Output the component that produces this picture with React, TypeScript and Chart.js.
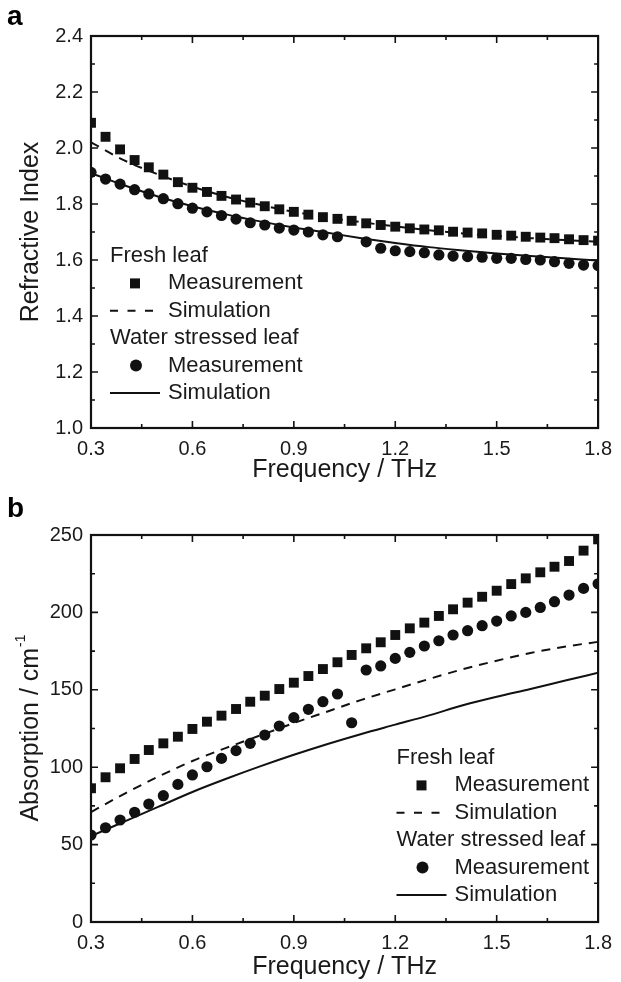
import React, { useEffect, useRef } from 'react';
import { Chart, registerables } from 'chart.js';

Chart.register(...registerables);

const FONT = '"Liberation Sans", Arial, Helvetica, sans-serif';
const INK = '#111111';
const TEXT = '#1a1a1a';

// ---------- data ----------
const measFreq = [
  0.300, 0.343, 0.386, 0.429, 0.471, 0.514, 0.557, 0.600, 0.643, 0.686, 0.729, 0.771,
  0.814, 0.857, 0.900, 0.943, 0.986, 1.029, 1.071, 1.114, 1.157, 1.200, 1.243, 1.286,
  1.329, 1.371, 1.414, 1.457, 1.500, 1.543, 1.586, 1.629, 1.671, 1.714, 1.757, 1.800,
];

// Panel a: refractive index
const freshIndexMeas = [
  2.09, 2.04, 1.995, 1.957, 1.931, 1.905, 1.878, 1.858, 1.843, 1.829, 1.816, 1.805,
  1.792, 1.781, 1.772, 1.762, 1.753, 1.747, 1.740, 1.731, 1.725, 1.719, 1.713, 1.709,
  1.706, 1.701, 1.698, 1.695, 1.690, 1.687, 1.683, 1.680, 1.678, 1.674, 1.671, 1.669,
];
const stressedIndexMeas = [
  1.913, 1.889, 1.871, 1.851, 1.836, 1.819, 1.801, 1.785, 1.772, 1.759, 1.746, 1.733,
  1.725, 1.714, 1.707, 1.700, 1.690, 1.683, null, 1.665, 1.642, 1.633, 1.630, 1.626,
  1.618, 1.614, 1.612, 1.610, 1.606, 1.606, 1.602, 1.600, 1.594, 1.588, 1.582, 1.580,
];
const simFreq = [0.3, 0.4, 0.5, 0.6, 0.7, 0.8, 0.9, 1.0, 1.1, 1.2, 1.3, 1.4, 1.5, 1.6, 1.7, 1.8];
const freshIndexSim = [
  2.02, 1.955, 1.905, 1.862, 1.826, 1.797, 1.772, 1.752, 1.735, 1.720, 1.706, 1.695,
  1.686, 1.678, 1.671, 1.665,
];
const stressedIndexSim = [
  1.910, 1.866, 1.826, 1.792, 1.763, 1.738, 1.716, 1.697, 1.678, 1.661, 1.646, 1.634,
  1.623, 1.614, 1.606, 1.598,
];

// Panel b: absorption
const freshAbsMeas = [
  86.4, 93.5, 99.3, 105.3, 111.1, 115.4, 119.7, 124.7, 129.4, 133.3, 137.6, 142.3,
  146.2, 150.5, 154.6, 158.9, 163.4, 167.8, 172.5, 176.8, 180.7, 185.4, 189.7, 193.4,
  197.7, 202.0, 206.3, 210.1, 214.0, 218.3, 222.0, 225.9, 229.5, 233.2, 239.9, 247.2,
];
const stressedAbsMeas = [
  56.2, 60.9, 65.9, 70.9, 76.2, 81.6, 88.9, 95.0, 100.3, 105.7, 110.7, 115.4,
  120.8, 126.6, 132.0, 137.4, 142.3, 147.3, 128.7, 162.8, 165.4, 170.3, 174.2, 178.3,
  181.7, 185.4, 188.2, 191.4, 194.4, 197.7, 200.0, 203.2, 206.9, 211.2, 215.5, 218.5,
];
const freshAbsSim = [
  71.0, 83.0, 94.0, 104.0, 112.5, 120.5, 128.5, 136.0, 143.5, 150.3, 157.0, 163.3,
  168.8, 173.8, 177.8, 181.0,
];
const stressedAbsSim = [
  55.5, 65.0, 74.5, 84.0, 92.5, 100.5, 108.0, 115.0, 121.5, 127.5, 133.5, 140.0,
  145.5, 150.5, 155.8, 161.0,
];

const legendGroups = ['Fresh leaf', 'Water stressed leaf'];
const legendItems = ['Measurement', 'Simulation'];

// ---------- plugins ----------
const framePlugin = {
  id: 'originFrame',
  afterDraw(chart: any, _a: any, opts: any) {
    const { ctx, chartArea, scales } = chart;
    const { left, right, top, bottom } = chartArea;
    const x = scales.x;
    const y = scales.y;
    ctx.save();
    ctx.strokeStyle = INK;
    ctx.lineCap = 'butt';
    const major = 7;
    const minor = 4;
    ctx.lineWidth = 1.6;
    const xt = x.ticks.map((t: any) => t.value);
    const yt = y.ticks.map((t: any) => t.value);
    const drawX = (v: number, len: number) => {
      const p = x.getPixelForValue(v);
      ctx.beginPath();
      ctx.moveTo(p, bottom);
      ctx.lineTo(p, bottom - len);
      ctx.moveTo(p, top);
      ctx.lineTo(p, top + len);
      ctx.stroke();
    };
    const drawY = (v: number, len: number) => {
      const p = y.getPixelForValue(v);
      ctx.beginPath();
      ctx.moveTo(left, p);
      ctx.lineTo(left + len, p);
      ctx.moveTo(right, p);
      ctx.lineTo(right - len, p);
      ctx.stroke();
    };
    xt.forEach((v: number, i: number) => {
      drawX(v, major);
      if (i < xt.length - 1) drawX((v + xt[i + 1]) / 2, minor);
    });
    yt.forEach((v: number, i: number) => {
      drawY(v, major);
      if (i < yt.length - 1) drawY((v + yt[i + 1]) / 2, minor);
    });
    ctx.lineWidth = 2.2;
    ctx.strokeRect(left, top, right - left, bottom - top);

    // titles
    ctx.fillStyle = TEXT;
    ctx.textAlign = 'center';
    ctx.textBaseline = 'middle';
    ctx.font = `25px ${FONT}`;
    ctx.fillText(opts.xTitle, (left + right) / 2, bottom + opts.xTitleGap);

    ctx.save();
    ctx.translate(opts.yTitleX, (top + bottom) / 2);
    ctx.rotate(-Math.PI / 2);
    ctx.textAlign = 'left';
    ctx.textBaseline = 'alphabetic';
    ctx.font = `25px ${FONT}`;
    const w1 = ctx.measureText(opts.yTitle).width;
    let w2 = 0;
    if (opts.ySup) {
      ctx.font = `14px ${FONT}`;
      w2 = ctx.measureText(opts.ySup).width;
    }
    const start = -(w1 + w2) / 2;
    ctx.font = `25px ${FONT}`;
    ctx.fillText(opts.yTitle, start, 9);
    if (opts.ySup) {
      ctx.font = `14px ${FONT}`;
      ctx.fillText(opts.ySup, start + w1 + 1, -4);
    }
    ctx.restore();

    // panel letter
    ctx.textAlign = 'left';
    ctx.textBaseline = 'alphabetic';
    ctx.font = `bold 28px ${FONT}`;
    ctx.fillStyle = '#000';
    ctx.fillText(opts.letter, 7, opts.letterY);

    // legend
    const lx = left + opts.legendDx;
    const ly = top + opts.legendDy;
    const row = 27.4;
    ctx.font = `22px ${FONT}`;
    ctx.fillStyle = TEXT;
    ctx.textBaseline = 'middle';
    const rows = [
      { kind: 'header', text: legendGroups[0] },
      { kind: 'square', text: legendItems[0] },
      { kind: 'dash', text: legendItems[1] },
      { kind: 'header', text: legendGroups[1] },
      { kind: 'circle', text: legendItems[0] },
      { kind: 'solid', text: legendItems[1] },
    ];
    rows.forEach((r, i) => {
      const cy = ly + i * row;
      if (r.kind === 'header') {
        ctx.fillStyle = TEXT;
        ctx.fillText(r.text, lx, cy);
        return;
      }
      ctx.fillStyle = INK;
      ctx.strokeStyle = INK;
      if (r.kind === 'square') {
        ctx.fillRect(lx + 25 - 5, cy - 5, 10, 10);
      } else if (r.kind === 'circle') {
        ctx.beginPath();
        ctx.arc(lx + 26, cy, 6, 0, Math.PI * 2);
        ctx.fill();
      } else {
        ctx.lineWidth = 2;
        ctx.setLineDash(r.kind === 'dash' ? [8, 9.5] : []);
        ctx.beginPath();
        ctx.moveTo(lx, cy);
        ctx.lineTo(lx + (r.kind === 'dash' ? 43 : 50), cy);
        ctx.stroke();
        ctx.setLineDash([]);
      }
      ctx.fillStyle = TEXT;
      ctx.fillText(r.text, lx + 58, cy);
    });
    ctx.restore();
  },
};

function pts(xs: number[], ys: (number | null)[]) {
  return xs.map((x, i) => ({ x, y: ys[i] }));
}

function makeConfig(p: any) {
  return {
    type: 'scatter',
    data: {
      datasets: [
        {
          data: pts(measFreq, p.freshMeas),
          showLine: false,
          pointStyle: 'rect',
          pointRadius: 7,
          backgroundColor: INK,
          borderColor: INK,
          borderWidth: 0,
        },
        {
          data: pts(simFreq, p.freshSim),
          showLine: true,
          borderDash: [9, 7],
          borderColor: INK,
          borderWidth: 2,
          pointRadius: 0,
          cubicInterpolationMode: 'monotone',
        },
        {
          data: pts(measFreq, p.stressedMeas),
          showLine: false,
          pointStyle: 'circle',
          pointRadius: 5.6,
          backgroundColor: INK,
          borderColor: INK,
          borderWidth: 0,
        },
        {
          data: pts(simFreq, p.stressedSim),
          showLine: true,
          borderColor: INK,
          borderWidth: 2,
          pointRadius: 0,
          cubicInterpolationMode: 'monotone',
        },
      ],
    },
    options: {
      responsive: true,
      maintainAspectRatio: false,
      animation: false,
      events: [],
      layout: { padding: { top: p.padTop, right: 14, left: 0, bottom: 0 } },
      plugins: {
        legend: { display: false },
        tooltip: { enabled: false },
        originFrame: {
          xTitle: 'Frequency / THz',
          xTitleGap: p.xTitleGap,
          yTitle: p.yTitle,
          ySup: p.ySup,
          yTitleX: 29,
          letter: p.letter,
          letterY: p.letterY,
          legendDx: p.legendDx,
          legendDy: p.legendDy,
        },
      },
      scales: {
        x: {
          type: 'linear',
          min: 0.3,
          max: 1.8,
          grid: { display: false, drawTicks: false },
          border: { display: false },
          ticks: {
            stepSize: 0.3,
            padding: 9,
            color: TEXT,
            font: { family: FONT, size: 20 },
            maxRotation: 0,
            callback: (v: number) => v.toFixed(1),
          },
          afterFit: (s: any) => {
            s.height = p.xAxisH;
          },
        },
        y: {
          type: 'linear',
          min: p.yMin,
          max: p.yMax,
          grid: { display: false, drawTicks: false },
          border: { display: false },
          ticks: {
            stepSize: p.yStep,
            padding: 8,
            color: TEXT,
            font: { family: FONT, size: 20 },
            callback: (v: number) => (p.yDec ? v.toFixed(p.yDec) : String(v)),
          },
          afterFit: (s: any) => {
            s.width = 91;
          },
        },
      },
    },
    plugins: [framePlugin],
  };
}

function Panel({ top, cfg }: { top: number; cfg: any }) {
  const ref = useRef<HTMLCanvasElement | null>(null);
  useEffect(() => {
    if (!ref.current) return;
    const chart = new Chart(ref.current, makeConfig(cfg) as any);
    return () => chart.destroy();
  }, []);
  return (
    <div style={{ position: 'absolute', left: 0, top, width: 621, height: 491 }}>
      <canvas ref={ref} />
    </div>
  );
}

const panelA = {
  freshMeas: freshIndexMeas,
  freshSim: freshIndexSim,
  stressedMeas: stressedIndexMeas,
  stressedSim: stressedIndexSim,
  yMin: 1.0,
  yMax: 2.4,
  yStep: 0.2,
  yDec: 1,
  yTitle: 'Refractive Index',
  ySup: '',
  letter: 'a',
  letterY: 25,
  padTop: 36,
  xAxisH: 63,
  xTitleGap: 42,
  legendDx: 19,
  legendDy: 220,
};

const panelB = {
  freshMeas: freshAbsMeas,
  freshSim: freshAbsSim,
  stressedMeas: stressedAbsMeas,
  stressedSim: stressedAbsSim,
  yMin: 0,
  yMax: 250,
  yStep: 50,
  yDec: 0,
  yTitle: 'Absorption / cm',
  ySup: '-1',
  letter: 'b',
  letterY: 26,
  padTop: 44,
  xAxisH: 60,
  xTitleGap: 45,
  legendDx: 305.5,
  legendDy: 223,
};

export default function App() {
  return (
    <div style={{ position: 'absolute', left: 0, top: 0, width: 621, height: 982, background: '#ffffff', overflow: 'hidden' }}>
      <Panel top={0} cfg={panelA} />
      <Panel top={491} cfg={panelB} />
    </div>
  );
}
